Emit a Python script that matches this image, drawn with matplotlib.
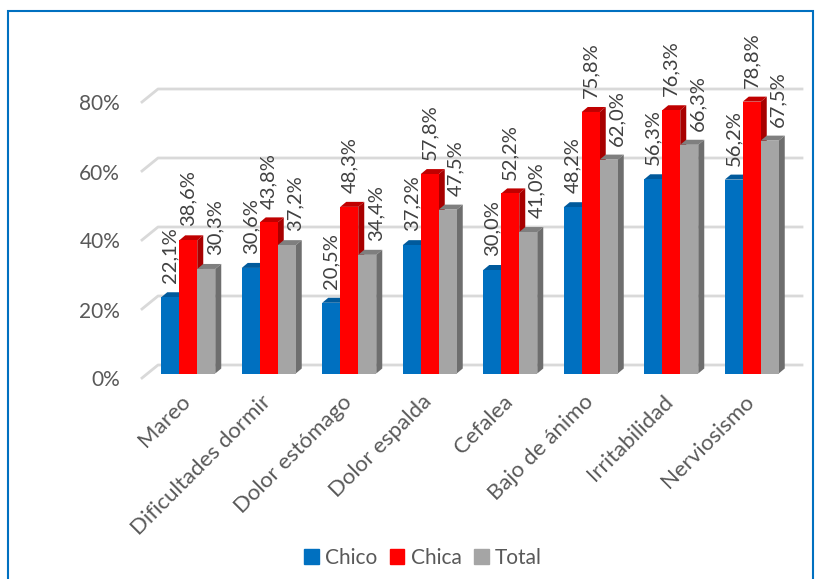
import matplotlib
matplotlib.use("Agg")
import matplotlib.pyplot as plt
import matplotlib.transforms as mtrans
from matplotlib.patches import Polygon, Rectangle, Patch
import numpy as np

plt.rcParams['font.family'] = ['Lato', 'DejaVu Sans']

categories = ['Mareo', 'Dificultades dormir', 'Dolor estómago', 'Dolor espalda',
              'Cefalea', 'Bajo de ánimo', 'Irritabilidad', 'Nerviosismo']
chico = [22.1, 30.6, 20.5, 37.2, 30.0, 48.2, 56.3, 56.2]
chica = [38.6, 43.8, 48.3, 57.8, 52.2, 75.8, 76.3, 78.8]
total = [30.3, 37.2, 34.4, 47.5, 41.0, 62.0, 66.3, 67.5]
yticks = [0, 20, 40, 60, 80]

W, H = 816, 579
fig = plt.figure(figsize=(W / 100, H / 100), dpi=100)
ax = fig.add_axes([148 / W, 1 - 373.5 / H, 644 / W, 276 / H])
ax.set_xlim(-0.5, 7.5)
ax.set_ylim(0, 80)
ax.patch.set_alpha(0)
for s in ax.spines.values():
    s.set_visible(False)

# pixel to data helpers for the fake 3d depth
px = 8 / 644
py = 80 / 276

# gridlines: front stub then back wall
for t in yticks:
    xs = [-0.5 - 6 * px, -0.5 + 10 * px, 7.5 + 10 * px]
    ys = [t - 4.5 * py, t + 8.5 * py, t + 8.5 * py]
    ax.plot(xs, ys, color='#D9D9D9', lw=2, clip_on=False, zorder=1)

width = 18 / 80.5
dx = 6 * px
dy = 5 * py
# label offset in points, gray labels sit right of their bar
series = [('Chico', chico, '#0070C0', '#005A9C', '#004F8A', -1, 0),
          ('Chica', chica, '#FF0000', '#C00000', '#A80000', 0, 0),
          ('Total', total, '#A5A5A5', '#7F7F7F', '#6E6E6E', 1, 6)]

for k, (name, vals, col, top, side, off, lab_dx) in enumerate(series):
    x = np.arange(len(vals)) + off * width
    z = 3 + k
    ax.bar(x, vals, width, color=col, zorder=z + 0.5, clip_on=False)
    for xi, v in zip(x, vals):
        l, r = xi - width / 2, xi + width / 2
        ax.add_patch(Polygon([(l, v), (r, v), (r + dx, v + dy), (l + dx, v + dy)],
                             color=top, lw=0, zorder=z, clip_on=False))
        ax.add_patch(Polygon([(r, 0), (r + dx, dy), (r + dx, v + dy), (r, v)],
                             color=side, lw=0, zorder=z, clip_on=False))
        ax.annotate(f'{v:.1f}%'.replace('.', ','), (xi, v), xytext=(lab_dx, 10),
                    textcoords='offset points', rotation=90, ha='center', va='bottom',
                    fontsize=14.5, color='#404040', zorder=10, annotation_clip=False)

ax.set_xticks(range(len(categories)))
ax.set_xticklabels(categories, rotation=45, ha='right', rotation_mode='anchor',
                   fontsize=16, color='#595959')
ax.set_yticks(yticks)
ax.set_yticklabels([f'{t}%' for t in yticks], fontsize=15, color='#595959')
ax.tick_params(axis='x', length=0, pad=13)
ax.tick_params(axis='y', length=0, pad=20)
shift = mtrans.ScaledTranslation(0, -5 / 100, fig.dpi_scale_trans)
for lab in ax.get_yticklabels():
    lab.set_transform(lab.get_transform() + shift)
shift_x = mtrans.ScaledTranslation(-8 / 100, 0, fig.dpi_scale_trans)
for lab in ax.get_xticklabels():
    lab.set_transform(lab.get_transform() + shift_x)

handles = [Patch(color=s[2], label=s[0]) for s in series]
fig.legend(handles=handles, loc='center', bbox_to_anchor=(423 / W, 1 - 558 / H), ncols=3,
           frameon=False, fontsize=15, labelcolor='#595959', handlelength=0.7,
           handleheight=0.7, handletextpad=0.3, columnspacing=0.6)

# blue frame around the chart
fig.add_artist(Rectangle((8 / W, -0.02), (813 - 8) / W, 1.02 - 11 / H, transform=fig.transFigure,
                         fill=False, edgecolor='#0070C0', lw=1.5))

fig.savefig('out.png', dpi=100)
